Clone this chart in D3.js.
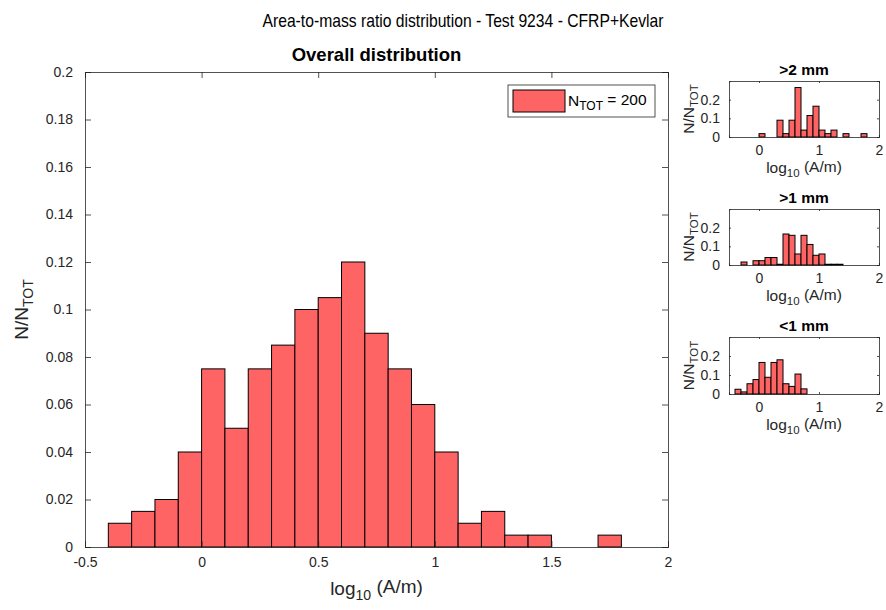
<!DOCTYPE html>
<html><head><meta charset="utf-8">
<script src="https://cdn.jsdelivr.net/npm/d3@7"></script>
<style>
body{margin:0;background:#fff;}
svg{display:block;font-family:"Liberation Sans",Arial,Helvetica,sans-serif;}
</style></head>
<body><svg id="c" width="886" height="610"></svg>
<script>
// ---- data ----
const binWidth = 0.1;
const mainBins = [-0.4,-0.3,-0.2,-0.1,0.0,0.1,0.2,0.3,0.4,0.5,0.6,0.7,0.8,0.9,1.0,1.1,1.2,1.3,1.4,1.5,1.6,1.7];
const mainValues = [0.01,0.015,0.02,0.04,0.075,0.05,0.075,0.085,0.1,0.105,0.12,0.09,0.075,0.06,0.04,0.01,0.015,0.005,0.005,0,0,0.005];
const sub1Bins = [0.0,0.3,0.4,0.5,0.6,0.7,0.8,0.9,1.0,1.1,1.2,1.4,1.7];
const sub1Values = [0.018,0.09,0.018,0.09,0.265,0.037,0.115,0.165,0.037,0.018,0.037,0.018,0.018];
const sub2Bins = [-0.3,-0.1,0.0,0.1,0.2,0.3,0.4,0.5,0.6,0.7,0.8,0.9,1.0,1.1,1.2,1.3];
const sub2Values = [0.016,0.023,0.023,0.04,0.04,0.004,0.166,0.159,0.059,0.159,0.11,0.052,0.059,0.004,0.004,0.004];
const sub3Bins = [-0.4,-0.3,-0.2,-0.1,0.0,0.1,0.2,0.3,0.4,0.5,0.6,0.7];
const sub3Values = [0.025,0.011,0.054,0.076,0.166,0.088,0.166,0.18,0.054,0.04,0.105,0.027];
const mainXTicks = [-0.5,0,0.5,1,1.5,2];
const mainYTicks = [0,0.02,0.04,0.06,0.08,0.1,0.12,0.14,0.16,0.18,0.2];
const subXTicks = [0,1,2];
const subYTicks = [0,0.1,0.2];
const subTitles = [">2 mm",">1 mm","<1 mm"];
const suptitle = "Area-to-mass ratio distribution - Test 9234 - CFRP+Kevlar";
const mainTitle = "Overall distribution";
const nTot = 200;

const fill = "#ff6464", axCol = "#262626";
const svg = d3.select("#c");
const fmt = v => String(+v.toFixed(3));

function subText(sel, base, sub, rest, subSize){
  sel.append("tspan").text(base);
  sel.append("tspan").attr("dy","0.35em").attr("font-size",subSize).text(sub);
  sel.append("tspan").attr("dy","-0.35em").text(rest);
}

function panel(o){
  const x = d3.scaleLinear().domain([-0.5,2]).range([o.x0,o.x1]);
  const y = d3.scaleLinear().domain(o.yd).range([o.y1,o.y0]);
  const g = svg.append("g");
  g.selectAll("rect.bar").data(o.bins.map((b,i)=>({b,v:o.vals[i]})).filter(d=>d.v>0))
    .enter().append("rect").attr("class","bar")
    .attr("x",d=>x(d.b)).attr("width",d=>x(d.b+binWidth)-x(d.b))
    .attr("y",d=>y(d.v)).attr("height",d=>y(0)-y(d.v))
    .attr("fill",fill).attr("stroke","#000").attr("stroke-width",o.sw);
  const tl = o.tl;
  const mk = (a,t,cls)=>{
    const ag = g.append("g").attr("class",cls).attr("transform",t).call(a);
    ag.attr("font-family",null);
    ag.select(".domain").attr("stroke",axCol).attr("stroke-width",0.8);
    ag.selectAll(".tick line").attr("stroke",axCol).attr("stroke-width",0.8);
    ag.selectAll(".tick text").attr("fill",axCol).attr("font-size",o.fs);
    return ag;
  };
  const xb = mk(d3.axisBottom(x).tickValues(o.xt).tickSize(-tl).tickFormat(fmt), `translate(0,${o.y1})`,"xb");
  mk(d3.axisTop(x).tickValues(o.xt).tickSize(-tl).tickFormat(""), `translate(0,${o.y0})`,"xt");
  const yl0 = mk(d3.axisLeft(y).tickValues(o.yt).tickSize(-tl).tickFormat(fmt), `translate(${o.x0},0)`,"yl");
  mk(d3.axisRight(y).tickValues(o.yt).tickSize(-tl).tickFormat(""), `translate(${o.x1},0)`,"yr");
  xb.selectAll(".tick text").attr("dy","0.71em").attr("y",o.xpad);
  yl0.selectAll(".tick text").attr("x",-o.ypad);
  g.append("text").attr("x",(o.x0+o.x1)/2).attr("y",o.ty).attr("text-anchor","middle")
    .attr("font-weight","bold").attr("font-size",o.tfs).attr("fill","#000").text(o.title);
  const xl = g.append("text").attr("x",(o.x0+o.x1)/2).attr("y",o.xly).attr("text-anchor","middle")
    .attr("font-size",o.lfs).attr("fill",axCol);
  subText(xl,"log","10"," (A/m)",o.lfs*0.74);
  const yl = g.append("text").attr("transform",`translate(${o.ylx},${(o.y0+o.y1)/2}) rotate(-90)`)
    .attr("text-anchor","middle").attr("font-size",o.lfs).attr("fill",axCol);
  subText(yl,"N/N","TOT","",o.lfs*0.74);
  return {x,y,g};
}

svg.append("text").attr("x",463).attr("y",27).attr("text-anchor","middle")
  .attr("font-size",19).attr("fill","#000")
  .attr("textLength",401).attr("lengthAdjust","spacingAndGlyphs").text(suptitle);

const m = panel({x0:85,x1:668,y0:72,y1:547,yd:[0,0.2],bins:mainBins,vals:mainValues,
  xt:mainXTicks,yt:mainYTicks,tl:6,fs:14,xpad:10,ypad:12,sw:1,title:mainTitle,ty:61,tfs:18.5,
  xly:595,lfs:19,ylx:28});

const lg = m.g.append("g");
lg.append("rect").attr("x",508).attr("y",85).attr("width",147).attr("height",32)
  .attr("fill","#fff").attr("stroke",axCol).attr("stroke-width",0.8);
lg.append("rect").attr("x",513).attr("y",90).attr("width",52).attr("height",22)
  .attr("fill",fill).attr("stroke","#000").attr("stroke-width",1);
const lt = lg.append("text").attr("x",568).attr("y",106).attr("font-size",15.5).attr("fill","#000");
subText(lt,"N","TOT"," = "+nTot,12);

const subs = [[81,137,sub1Bins,sub1Values],[209,265,sub2Bins,sub2Values],[337,394,sub3Bins,sub3Values]];
subs.forEach(([y0,y1,b,v],i)=>{
  panel({x0:729,x1:879,y0,y1,yd:[0,0.3],bins:b,vals:v,xt:subXTicks,yt:subYTicks,tl:2,fs:14,
    xpad:8,ypad:9,sw:1,title:subTitles[i],ty:y0-6,tfs:15.5,xly:y1+36,lfs:15.5,ylx:694});
});
</script></body></html>
